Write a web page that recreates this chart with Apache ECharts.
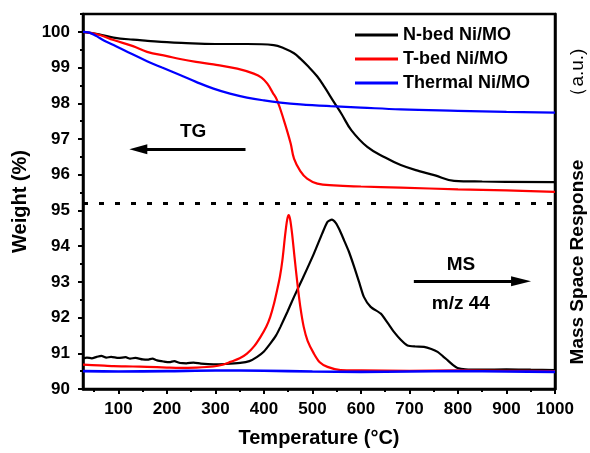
<!DOCTYPE html>
<html>
<head>
<meta charset="utf-8">
<script src="https://cdn.jsdelivr.net/npm/echarts@6/dist/echarts.min.js"></script>
<style>
  html, body { margin: 0; padding: 0; background: #fff; }
  #chart { width: 590px; height: 453px; }
</style>
</head>
<body>
<div id="chart"></div>
<script>
// ---- data ----
const xTicks = [100, 200, 300, 400, 500, 600, 700, 800, 900, 1000];
const xMinor = [50, 150, 250, 350, 450, 550, 650, 750, 850, 950];
const yTicks = [90, 91, 92, 93, 94, 95, 96, 97, 98, 99, 100];
const yMinor = [90.5, 91.5, 92.5, 93.5, 94.5, 95.5, 96.5, 97.5, 98.5, 99.5, 100.5];

// TG curves
const nbedTgT = [27, 60, 90, 130, 160, 200, 230, 300, 365, 420, 440, 462, 475, 490, 510, 525, 544, 560, 580, 613, 650, 682, 720, 751, 792, 850, 1000];
const nbedTgW = [100, 99.93, 99.84, 99.78, 99.75, 99.71, 99.69, 99.66, 99.66, 99.63, 99.55, 99.4, 99.25, 99.05, 98.75, 98.45, 98.04, 97.7, 97.25, 96.78, 96.48, 96.27, 96.1, 95.99, 95.83, 95.81, 95.79];

const tbedTgT = [27, 60, 90, 130, 159, 200, 227, 260, 296, 345, 379, 395, 407, 418, 427, 441, 455, 462, 475, 489, 510, 544, 600, 682, 800, 900, 1000];
const tbedTgW = [100, 99.92, 99.77, 99.6, 99.44, 99.32, 99.24, 99.16, 99.09, 98.97, 98.83, 98.72, 98.55, 98.3, 98.09, 97.53, 96.88, 96.45, 96.1, 95.89, 95.75, 95.7, 95.67, 95.64, 95.59, 95.56, 95.52];

const thermTgT = [27, 40, 55, 70, 90, 120, 159, 190, 227, 260, 296, 330, 365, 400, 434, 475, 537, 600, 682, 800, 900, 1000];
const thermTgW = [100, 99.98, 99.88, 99.76, 99.63, 99.43, 99.18, 99.0, 98.79, 98.6, 98.41, 98.27, 98.16, 98.08, 98.02, 97.97, 97.92, 97.88, 97.83, 97.79, 97.76, 97.74];

// MS curves (m/z 44), drawn on the same scale
const nbedMsT = [27, 35, 45, 55, 65, 75, 85, 100, 115, 124, 135, 150, 160, 170, 180, 193, 205, 215, 227, 240, 255, 270, 296, 320, 351, 370, 386, 400, 413, 425, 434, 448, 462, 480, 503, 520, 531, 540, 548, 556, 565, 575, 586, 596, 606, 620, 641, 655, 668, 682, 696, 712, 730, 745, 758, 768, 779, 790, 799, 815, 850, 900, 950, 1000];
const nbedMsV = [90.85, 90.88, 90.86, 90.9, 90.93, 90.88, 90.9, 90.87, 90.89, 90.85, 90.87, 90.83, 90.82, 90.85, 90.8, 90.77, 90.75, 90.78, 90.73, 90.72, 90.74, 90.71, 90.69, 90.7, 90.73, 90.78, 90.9, 91.05, 91.27, 91.5, 91.74, 92.15, 92.58, 93.1, 93.79, 94.35, 94.68, 94.74, 94.65, 94.45, 94.17, 93.85, 93.42, 93.0, 92.58, 92.3, 92.11, 91.85, 91.6, 91.38, 91.22, 91.19, 91.18, 91.12, 91.04, 90.93, 90.8, 90.67, 90.59, 90.55, 90.54, 90.55, 90.54, 90.53];

const tbedMsT = [27, 60, 90, 130, 159, 200, 227, 260, 296, 315, 331, 350, 365, 380, 393, 405, 413, 420, 427, 433, 438, 444, 448, 451, 454, 458, 463, 469, 475, 482, 490, 503, 515, 531, 558, 600, 700, 800, 900, 1000];
const tbedMsV = [90.68, 90.66, 90.64, 90.63, 90.62, 90.6, 90.59, 90.6, 90.63, 90.68, 90.76, 90.86, 90.99, 91.2, 91.46, 91.75, 92.02, 92.35, 92.76, 93.15, 93.6, 94.35, 94.75, 94.87, 94.75, 94.35, 93.7, 92.95, 92.3, 91.74, 91.35, 90.99, 90.75, 90.62, 90.53, 90.52, 90.51, 90.52, 90.51, 90.5];

const thermMsT = [27, 100, 200, 300, 400, 500, 600, 700, 800, 900, 1000];
const thermMsV = [90.5, 90.49, 90.5, 90.52, 90.51, 90.49, 90.48, 90.49, 90.5, 90.49, 90.48];

const names = ['N-bed Ni/MO', 'T-bed Ni/MO', 'Thermal Ni/MO'];
const colors = ['#000000', '#ff0000', '#0000ff'];

function zip(xs, ys) {
  return xs.map((x, i) => [x, ys[i]]);
}

const font = 'Liberation Sans, Arial, Helvetica, sans-serif';
const black = '#000';

const chart = echarts.init(document.getElementById('chart'));

const option = {
  animation: false,
  backgroundColor: '#fff',
  grid: {
    left: 83, right: 35, top: 14, bottom: 64,
    outerBoundsMode: 'none',
    show: true, borderColor: black, borderWidth: 2.5, backgroundColor: 'transparent'
  },
  legend: {
    data: names,
    orient: 'vertical',
    left: 350, top: 21,
    icon: 'rect',
    itemWidth: 43, itemHeight: 3, itemGap: 6,
    textStyle: { fontFamily: font, fontWeight: 'bold', fontSize: 18, color: black }
  },
  xAxis: [{
    type: 'value', min: 27, max: 1000,
    name: 'Temperature (°C)', nameLocation: 'middle', nameGap: 39,
    nameTextStyle: { fontFamily: font, fontWeight: 'bold', fontSize: 20, color: black },
    axisLine: { show: true, lineStyle: { color: black, width: 2.5 } },
    axisTick: { show: true, length: 5, lineStyle: { color: black, width: 2 }, customValues: xTicks },
    axisLabel: {
      customValues: xTicks, margin: 12, formatter: v => String(v),
      fontFamily: font, fontWeight: 'bold', fontSize: 17, color: black
    },
    splitLine: { show: false }
  }, {
    type: 'value', min: 27, max: 1000, position: 'bottom',
    axisLine: { show: false },
    axisTick: { show: true, length: 3, lineStyle: { color: black, width: 2 }, customValues: xMinor },
    axisLabel: { show: false },
    splitLine: { show: false }
  }],
  yAxis: [{
    type: 'value', min: 90, max: 100.5, position: 'left',
    name: 'Weight (%)', nameLocation: 'middle', nameGap: 49,
    nameTextStyle: { fontFamily: font, fontWeight: 'bold', fontSize: 20, color: black },
    axisLine: { show: true, lineStyle: { color: black, width: 2.5 } },
    axisTick: { show: true, length: 5, lineStyle: { color: black, width: 2 }, customValues: yTicks },
    axisLabel: {
      customValues: yTicks, margin: 13, formatter: v => String(v),
      fontFamily: font, fontWeight: 'bold', fontSize: 17, color: black
    },
    splitLine: { show: false }
  }, {
    type: 'value', min: 90, max: 100.5, position: 'right',
    name: '{b|Mass Space Response}{n|（a.u.)}', nameLocation: 'middle', nameGap: 13, nameRotate: 90,
    nameTextStyle: {
      color: black,
      rich: {
        b: { fontFamily: font, fontWeight: 'bold', fontSize: 19, color: black },
        n: { fontFamily: font, fontSize: 19, color: black, padding: [0, 10, 0, 54] }
      }
    },
    axisLine: { show: true, lineStyle: { color: black, width: 2.5 } },
    axisTick: { show: false },
    axisLabel: { show: false },
    splitLine: { show: false }
  }, {
    type: 'value', min: 90, max: 100.5, position: 'left',
    axisLine: { show: false },
    axisTick: { show: true, length: 3, lineStyle: { color: black, width: 2 }, customValues: yMinor },
    axisLabel: { show: false },
    splitLine: { show: false }
  }],
  series: [
    {
      name: names[0], type: 'line', data: zip(nbedTgT, nbedTgW),
      showSymbol: false, symbol: 'none', smooth: 0.4,
      lineStyle: { color: colors[0], width: 2.2 }, itemStyle: { color: colors[0] },
      markLine: {
        silent: true, symbol: 'none', label: { show: false },
        lineStyle: { color: black, width: 3, type: [5, 11] },
        data: [{ yAxis: 95.2 }]
      }
    },
    {
      name: names[1], type: 'line', data: zip(tbedTgT, tbedTgW),
      showSymbol: false, symbol: 'none', smooth: 0.4,
      lineStyle: { color: colors[1], width: 2.2 }, itemStyle: { color: colors[1] }
    },
    {
      name: names[2], type: 'line', data: zip(thermTgT, thermTgW),
      showSymbol: false, symbol: 'none', smooth: 0.4,
      lineStyle: { color: colors[2], width: 2.2 }, itemStyle: { color: colors[2] },
      markLine: {
        silent: true, label: { show: false },
        lineStyle: { color: black, width: 3, type: 'solid' },
        data: [
          [{ coord: [362, 96.71], symbol: 'none' }, { coord: [141, 96.71], symbol: 'triangle', symbolSize: [10, 18] }],
          [{ coord: [709, 93.02], symbol: 'none' }, { coord: [930, 93.02], symbol: 'triangle', symbolSize: [10, 20] }]
        ]
      }
    },
    {
      name: names[0], type: 'line', data: zip(nbedMsT, nbedMsV),
      showSymbol: false, symbol: 'none', smooth: 0.2,
      lineStyle: { color: colors[0], width: 2.2 }, itemStyle: { color: colors[0] }
    },
    {
      name: names[1], type: 'line', data: zip(tbedMsT, tbedMsV),
      showSymbol: false, symbol: 'none', smooth: 0.3,
      lineStyle: { color: colors[1], width: 2.2 }, itemStyle: { color: colors[1] }
    },
    {
      name: names[2], type: 'line', data: zip(thermMsT, thermMsV),
      showSymbol: false, symbol: 'none', smooth: 0.3,
      lineStyle: { color: colors[2], width: 2.6 }, itemStyle: { color: colors[2] },
      markPoint: {
        silent: true, symbol: 'circle', symbolSize: 1,
        itemStyle: { color: 'transparent' },
        label: { show: true, position: 'inside', fontFamily: font, fontWeight: 'bold', fontSize: 19, color: black },
        data: [
          { coord: [254, 97.19], label: { formatter: 'TG' } },
          { coord: [806, 93.47], label: { formatter: 'MS' } },
          { coord: [806, 92.4], label: { formatter: 'm/z 44' } }
        ]
      }
    }
  ]
};

chart.setOption(option);
window.addEventListener('resize', () => chart.resize());
</script>
</body>
</html>
